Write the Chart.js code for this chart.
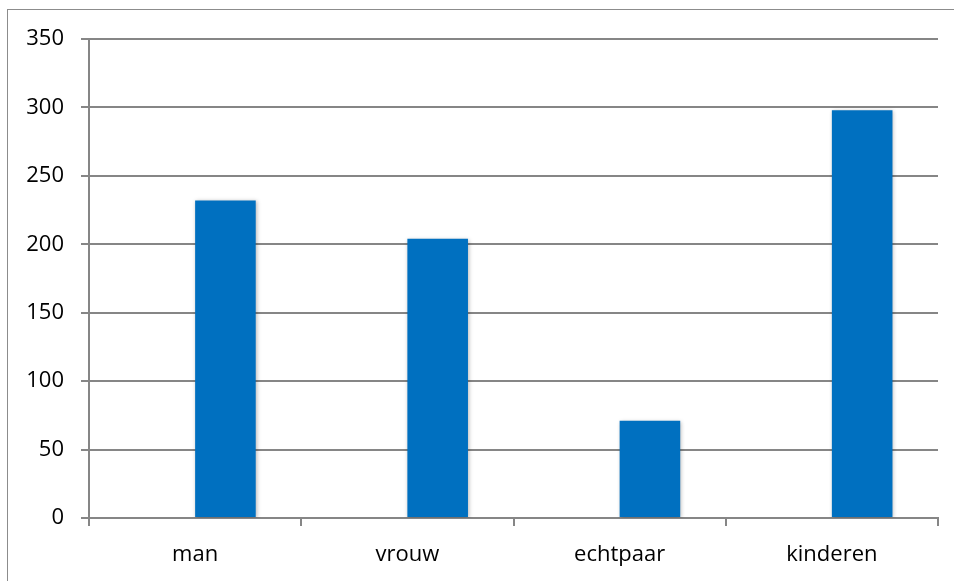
<!DOCTYPE html>
<html>
<head>
<meta charset="utf-8">
<script src="https://cdn.jsdelivr.net/npm/chart.js@4/dist/chart.umd.min.js"></script>
<style>
  html, body { margin: 0; padding: 0; background: #fff; overflow: hidden; }
  #wrap { position: relative; width: 954px; height: 581px; }
  #frame { position: absolute; left: 7px; top: 9px; width: 960px; height: 600px;
           border: 1.5px solid #8c8c8c; box-sizing: border-box; pointer-events: none; }
  canvas { position: absolute; left: 0; top: 0; }
</style>
</head>
<body>
<div id="wrap">
  <canvas id="chart" width="954" height="581"></canvas>
  <div id="frame"></div>
</div>
<script>
// data
var categories = ['man', 'vrouw', 'echtpaar', 'kinderen'];
var emptySeries = [null, null, null, null];
var counts = [232, 204, 71, 298];
var yTicks = [0, 50, 100, 150, 200, 250, 300, 350];

var barShadow = {
    id: 'barShadow',
    beforeDatasetDraw: function (chart, args) {
        var ctx = chart.ctx;
        ctx.save();
        ctx.shadowColor = 'rgba(0,0,0,0.28)';
        ctx.shadowBlur = 4;
        ctx.shadowOffsetX = 1;
        ctx.shadowOffsetY = 1;
    },
    afterDatasetDraw: function (chart) {
        chart.ctx.restore();
    }
};

var gridColor = '#868686';
var font = { family: '"Open Sans", sans-serif', size: 22 };

var ctx = document.getElementById('chart').getContext('2d');
var mychart = new Chart(ctx, {
    type: 'bar',
    data: {
        labels: categories,
        datasets: [
            { label: 'Reeks1', data: emptySeries, backgroundColor: '#0070C0' },
            { label: 'Reeks2', data: counts, backgroundColor: '#0070C0' }
        ]
    },
    plugins: [barShadow],
    options: {
        responsive: false,
        animation: false,
        devicePixelRatio: 1,
        categoryPercentage: 0.571,
        barPercentage: 1,
        layout: { padding: { left: 0, top: 39, right: 16, bottom: 0 } },
        plugins: {
            legend: { display: false },
            tooltip: { enabled: false }
        },
        scales: {
            x: {
                grid: {
                    offset: true,
                    drawOnChartArea: false,
                    drawTicks: true,
                    tickLength: 8,
                    color: gridColor,
                    lineWidth: 2
                },
                border: { color: gridColor, width: 2 },
                ticks: { color: '#000', font: font, padding: 16, maxRotation: 0 },
                afterFit: function (scale) { scale.height = 63; }
            },
            y: {
                min: 0,
                max: 350,
                afterBuildTicks: function (scale) {
                    scale.ticks = yTicks.map(function (v) { return { value: v }; });
                },
                grid: {
                    color: gridColor,
                    lineWidth: 2,
                    drawTicks: true,
                    tickLength: 8
                },
                border: { color: gridColor, width: 2 },
                ticks: { color: '#000', font: font, padding: 17 },
                afterFit: function (scale) { scale.width = 89; }
            }
        }
    }
});
</script>
</body>
</html>
